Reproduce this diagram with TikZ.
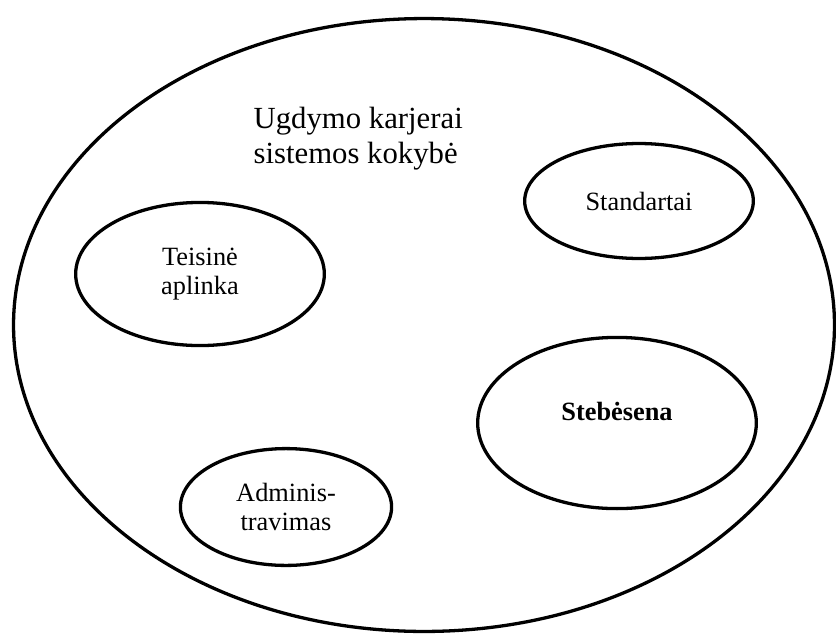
\documentclass[tikz,border=0pt]{standalone}
\usepackage{fontspec}
\setmainfont{Liberation Serif}
\usetikzlibrary{shapes.geometric}

\begin{document}
\begin{tikzpicture}[
  x=0.016cm, y=-0.016cm,
  line width=1.5pt,
  part/.style={draw, ellipse, inner sep=0pt, align=center,
    font=\fontsize{12}{13.5}\selectfont},
  font=\fontsize{12}{13.5}\selectfont
]
\useasboundingbox (0,0) rectangle (836,633);
\clip (0,0) rectangle (836,633);
% outer system and its title
\node[part, minimum width=13.14cm, minimum height=9.81cm] (system) at (424,325) {};
\node[anchor=base west, align=left, inner sep=0pt,
  font=\fontsize{14}{15.5}\selectfont] (title) at (252,163)
  {Ugdymo karjerai\\sistemos kokybė};
% parts of the system
\node[part, minimum width=3.98cm, minimum height=2.29cm] (law) at (200,274) {Teisinė\\aplinka};
\node[part, minimum width=3.66cm, minimum height=1.84cm] (std) at (639,201) {Standartai};
\node[part, minimum width=4.46cm, minimum height=2.74cm] (mon) at (617,423) {};
\node[anchor=base, inner sep=0pt, font=\fontsize{12}{13.5}\bfseries] (montext) at (617,420) {Stebėsena};
\node[part, minimum width=3.38cm, minimum height=1.87cm] (adm) at (286,507) {Adminis-\\travimas};
\end{tikzpicture}
\end{document}
